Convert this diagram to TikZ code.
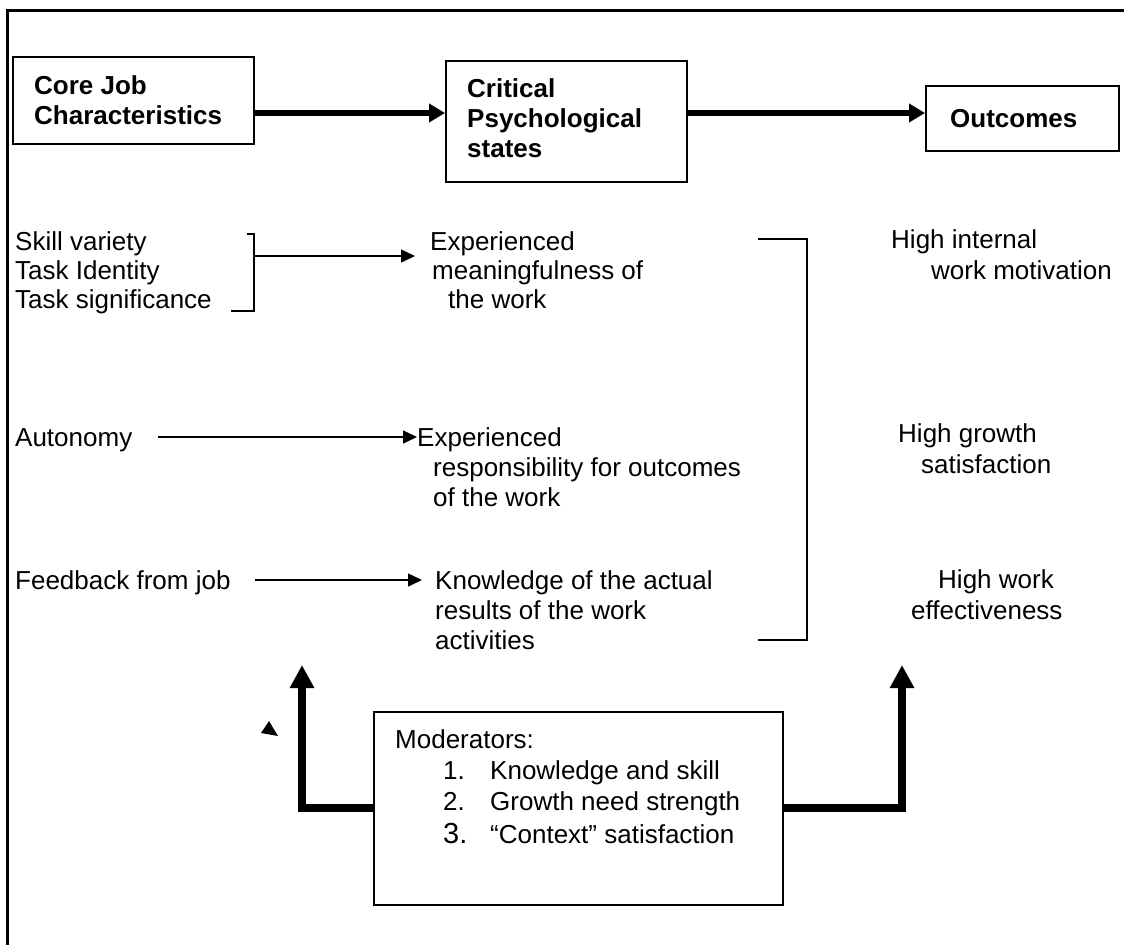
\documentclass[tikz,border=0pt]{standalone}
\usepackage{fontspec}
\setmainfont{Liberation Sans}
\usetikzlibrary{arrows.meta}
\begin{document}
\begin{tikzpicture}[x=1pt,y=-1pt,
  txt/.style={anchor=base west, inner sep=0pt, font=\fontsize{26}{30}\selectfont},
  btxt/.style={anchor=base west, inner sep=0pt, font=\fontsize{26}{30}\selectfont\bfseries},
  box/.style={draw, line width=2pt, inner sep=0pt},
  bigarrow/.style={line width=6pt, -{Triangle[length=16pt,width=18pt]}},
  thinarrow/.style={line width=1.5pt, -{Triangle[length=14pt,width=13pt]}},
  modarrow/.style={line width=8pt, -{Triangle[length=23pt,width=23pt]}},
  thinline/.style={line width=1.5pt}]
\useasboundingbox (0,0) rectangle (1124,945);
\fill[white] (0,0) rectangle (1124,945);
% outer frame (top and left edges visible)
\draw[line width=3pt] (7,945) -- (7,10) -- (1124,10);

% top boxes
\node[box, minimum width=241pt, minimum height=87pt] (core) at (133.5,100.5) {};
\node[box, minimum width=241pt, minimum height=121pt] (crit) at (566.5,121.5) {};
\node[box, minimum width=193pt, minimum height=65pt] (outc) at (1022.5,118.5) {};
\node[btxt] (t1) at (34,94) {Core Job};
\node[btxt] (t2) at (34,124) {Characteristics};
\node[btxt] (t3) at (467,97) {Critical};
\node[btxt] (t4) at (467,127) {Psychological};
\node[btxt] (t5) at (467,157) {states};
\node[btxt] (t6) at (950,127) {Outcomes};
\draw[bigarrow] (core.east |- 0,113) -- (crit.west |- 0,113);
\draw[bigarrow] (crit.east |- 0,113) -- (outc.west |- 0,113);

% core characteristics
\node[txt] (sv) at (15,250) {Skill variety};
\node[txt] (ti) at (15,279) {Task Identity};
\node[txt] (ts) at (15,308) {Task significance};
\node[txt] (au) at (15,446) {Autonomy};
\node[txt] (fb) at (15,589) {Feedback from job};

% psychological states
\node[txt] (e1) at (430,250) {Experienced};
\node[txt] (e2) at (432,279) {meaningfulness of};
\node[txt] (e3) at (448,308) {the work};
\node[txt] (r1) at (417,446) {Experienced};
\node[txt] (r2) at (433,476) {responsibility for outcomes};
\node[txt] (r3) at (433,506) {of the work};
\node[txt] (k1) at (435,589) {Knowledge of the actual};
\node[txt] (k2) at (435,619) {results of the work};
\node[txt] (k3) at (435,649) {activities};

% outcomes
\node[txt] (o1) at (891,248) {High internal};
\node[txt] (o2) at (931,279) {work motivation};
\node[txt] (o3) at (898,442) {High growth};
\node[txt] (o4) at (921,473) {satisfaction};
\node[txt] (o5) at (938,588) {High work};
\node[txt] (o6) at (911,619) {effectiveness};

% bracket and thin arrows
\draw[thinline] (247,234) -- (254,234) -- (254,311) -- (231,311);
\coordinate (b1) at (254,256);
\draw[thinarrow, shorten >=15pt] (b1) -- (e1.west |- b1);
\coordinate (a1) at (158,437);
\draw[thinarrow] (a1) -- (r1.west |- a1);
\coordinate (f1) at (255,580);
\draw[thinarrow, shorten >=13pt] (f1) -- (k1.west |- f1);
\draw[thinline] (758,239) -- (807,239) -- (807,640) -- (758,640);

% moderators
\node[box, minimum width=409pt, minimum height=193pt] (mod) at (578.5,808.5) {};
\node[txt] (m0) at (395,748) {Moderators:};
\node[txt] (n1) at (443,779) {1.};
\node[txt] (i1) at (490,779) {Knowledge and skill};
\node[txt] (n2) at (443,810) {2.};
\node[txt] (i2) at (490,810) {Growth need strength};
\node[txt, font=\fontsize{29}{30}\selectfont] (n3) at (443,843) {3.};
\node[txt] (i3) at (490,843) {“Context” satisfaction};
\coordinate (la) at (302,665);
\coordinate (ra) at (902,665);
\draw[modarrow] (mod.west |- 0,808) -| (la);
\draw[modarrow] (mod.east |- 0,808) -| (ra);
\fill (269,721) -- (261,733) -- (278,736) -- cycle;
\end{tikzpicture}
\end{document}
